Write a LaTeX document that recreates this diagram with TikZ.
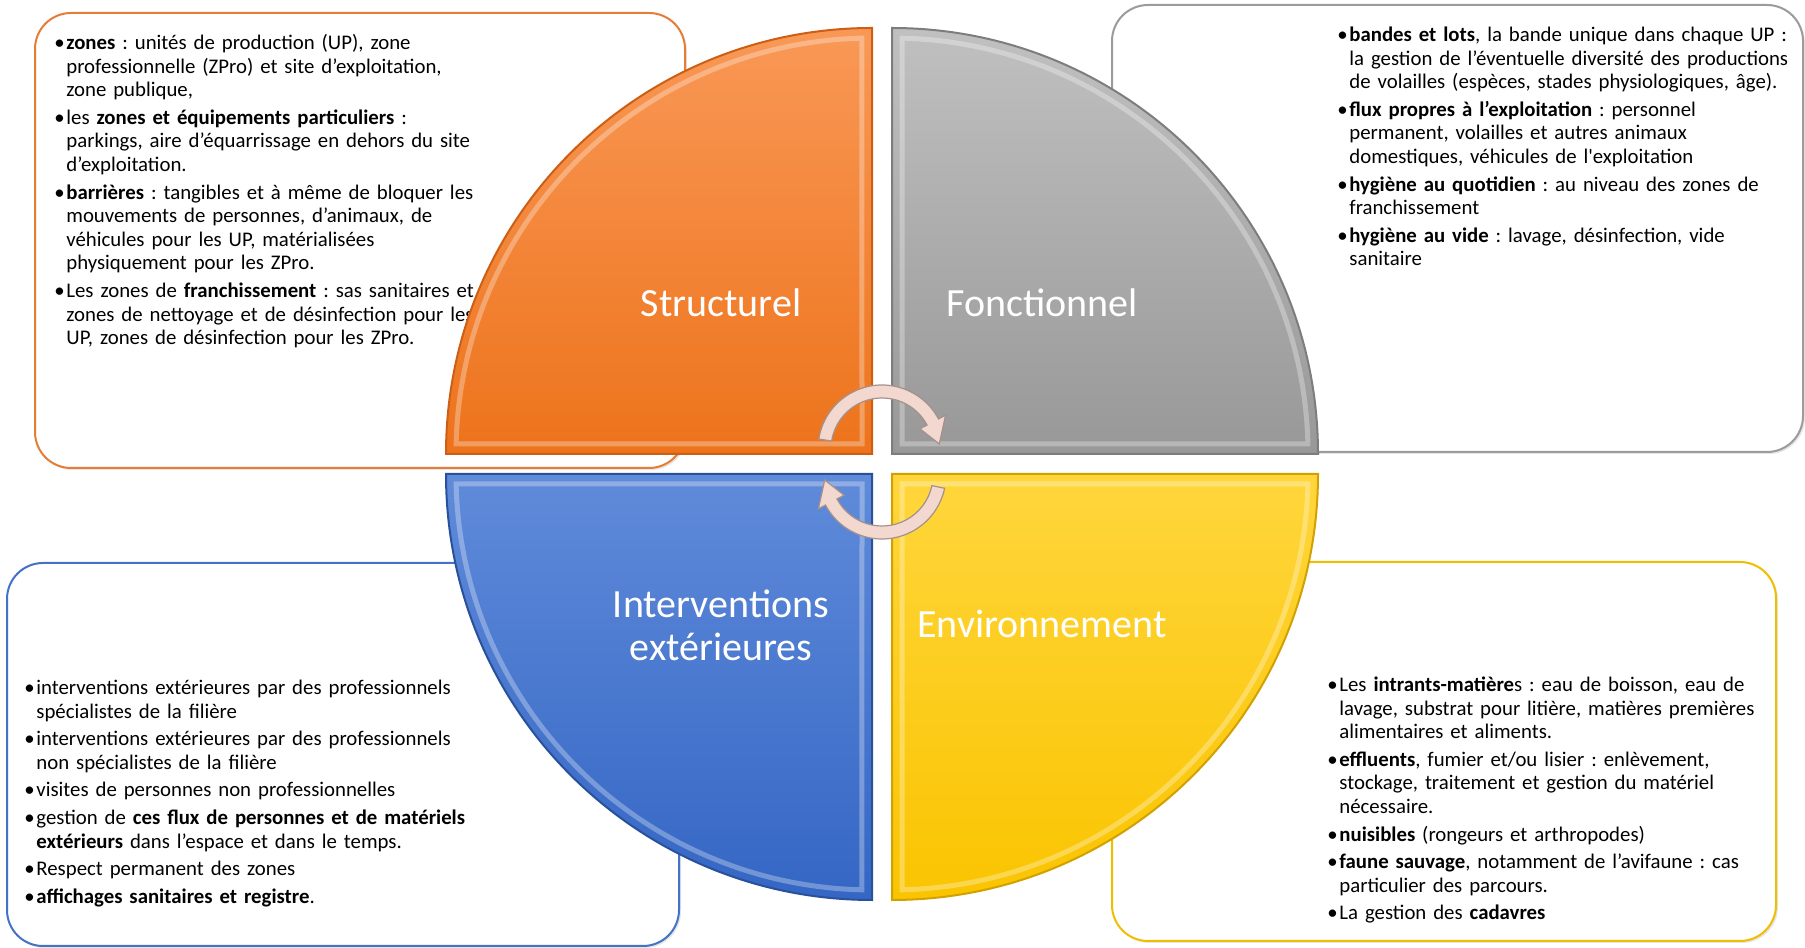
\documentclass[tikz,border=0pt]{standalone}
\usepackage{fontspec}
\setmainfont{Carlito}
\usepackage{tikz}
\usetikzlibrary{shadows}
\frenchspacing

\definecolor{orgedge}{RGB}{230,125,55}
\definecolor{grayedge}{RGB}{155,155,155}
\definecolor{blueedge}{RGB}{68,114,196}
\definecolor{goldedge}{RGB}{240,190,0}
\definecolor{orgtop}{RGB}{249,152,86}
\definecolor{orgbot}{RGB}{237,115,27}
\definecolor{orgrim}{RGB}{205,95,20}
\definecolor{graytop}{RGB}{192,192,192}
\definecolor{graybot}{RGB}{152,152,152}
\definecolor{grayrim}{RGB}{125,125,125}
\definecolor{bluetop}{RGB}{96,139,218}
\definecolor{bluebot}{RGB}{52,102,196}
\definecolor{bluerim}{RGB}{40,80,155}
\definecolor{goldtop}{RGB}{255,214,60}
\definecolor{goldbot}{RGB}{250,196,0}
\definecolor{goldrim}{RGB}{210,160,0}
\definecolor{arrowpink}{RGB}{243,216,208}
\definecolor{arrowedge}{RGB}{165,145,140}

\newcommand\puce[1]{\par\hangindent=6pt\hangafter=1\noindent\makebox[6pt][l]{\textbullet}#1\par\vspace{2pt}}

\tikzset{info box/.style={draw=#1,fill=white,line width=1pt,rounded corners=18pt,
		drop shadow={opacity=.2,shadow xshift=1pt,shadow yshift=-1pt}},
	info text/.style={anchor=base west,inner sep=0pt,text width=235pt,align=left,
		font=\fontsize{10.4}{11.8}\selectfont},
	quad/.style={top color=#1top,bottom color=#1bot,draw=#1rim,line width=1pt},
	bevel/.style={draw=white,draw opacity=.3,line width=2.5pt},
	quad label/.style={text=white,align=center,font=\fontsize{20}{21.5}\selectfont},
	cycle arrow/.style={fill=arrowpink,draw=arrowedge,line width=.6pt},
}

\begin{document}
\begin{tikzpicture}[x=0.5pt,y=0.5pt]
			\useasboundingbox (0,0) rectangle (1805,948);
			
			%% boxes
			\node[info box=orgedge,minimum width=325pt,minimum height=227.5pt] (structbox) at (360,707.5) {};
			\node[info box=grayedge,minimum width=345.5pt,minimum height=223.5pt] (fonctbox) at (1457.5,719.5) {};
			\node[info box=blueedge,minimum width=336pt,minimum height=191.5pt] (interbox) at (343,193.5) {};
			\node[info box=goldedge,minimum width=332pt,minimum height=189.5pt] (envirbox) at (1444,196.5) {};
			
			\node[info text] (structtext) at (54,922) {%
				\puce{\textbf{zones} : unités de production (UP), zone\newline professionnelle (ZPro) et site d’exploitation,\newline zone publique,}
				\puce{les \textbf{zones et équipements particuliers} :\newline parkings, aire d’équarrissage en dehors du site\newline d’exploitation.}
				\puce{\textbf{barrières} : tangibles et à même de bloquer les\newline mouvements de personnes, d’animaux, de\newline véhicules pour les UP, matérialisées\newline physiquement pour les ZPro.}
				\puce{Les zones de \textbf{franchissement} : sas sanitaires et\newline zones de nettoyage et de désinfection pour les\newline UP, zones de désinfection pour les ZPro.}};
			\node[info text] (foncttext) at (1337,930) {%
				\puce{\textbf{bandes et lots}, la bande unique dans chaque UP :\newline la gestion de l’éventuelle diversité des productions\newline de volailles (espèces, stades physiologiques, âge).}
				\puce{\textbf{flux propres à l’exploitation} : personnel\newline permanent, volailles et autres animaux\newline domestiques, véhicules de l\textquotesingle exploitation}
				\puce{\textbf{hygiène au quotidien} : au niveau des zones de\newline franchissement}
				\puce{\textbf{hygiène au vide} : lavage, désinfection, vide\newline sanitaire}};
			\node[info text] (intertext) at (24,277) {%
				\puce{interventions extérieures par des professionnels\newline spécialistes de la filière}
				\puce{interventions extérieures par des professionnels\newline non spécialistes de la filière}
				\puce{visites de personnes non professionnelles}
				\puce{gestion de \textbf{ces flux de personnes et de matériels}\newline \textbf{extérieurs} dans l’espace et dans le temps.}
				\puce{Respect permanent des zones}
				\puce{\textbf{affichages sanitaires et registre}.}};
			\node[info text] (envirtext) at (1327,280) {%
				\puce{Les \textbf{intrants-matière}s : eau de boisson, eau de\newline lavage, substrat pour litière, matières premières\newline alimentaires et aliments.}
				\puce{\textbf{effluents}, fumier et/ou lisier : enlèvement,\newline stockage, traitement et gestion du matériel\newline nécessaire.}
				\puce{\textbf{nuisibles} (rongeurs et arthropodes)}
				\puce{\textbf{faune sauvage}, notamment de l’avifaune : cas\newline particulier des parcours.}
				\puce{La gestion des \textbf{cadavres}}};
			
			%% quarters
			\draw[quad=org] (872,494) -- (446,494) arc[start angle=180,end angle=90,radius=426] -- cycle;
			\draw[bevel] (862,504) -- (456.1,504) arc[start angle=178.62,end angle=91.38,radius=416] -- cycle;
			\draw[quad=gray] (892,494) -- (1318,494) arc[start angle=0,end angle=90,radius=426] -- cycle;
			\draw[bevel] (902,504) -- (1307.9,504) arc[start angle=1.38,end angle=88.62,radius=416] -- cycle;
			\draw[quad=blue] (872,474) -- (446,474) arc[start angle=180,end angle=270,radius=426] -- cycle;
			\draw[bevel] (862,464) -- (456.1,464) arc[start angle=181.38,end angle=268.62,radius=416] -- cycle;
			\draw[quad=gold] (892,474) -- (1318,474) arc[start angle=0,end angle=-90,radius=426] -- cycle;
			\draw[bevel] (902,464) -- (1307.9,464) arc[start angle=-1.38,end angle=-88.62,radius=416] -- cycle;
			
			\node[quad label] (structurel) at (721,645) {Structurel};
			\node[quad label] (fonctionnel) at (1042,645) {Fonctionnel};
			\node[quad label] (interventions) at (721,323) {Interventions\\extérieures};
			\node[quad label] (environnement) at (1042,324) {Environnement};
			
			%% cycle arrows
			\begin{scope}[shift={(882,499)}]
			\draw[cycle arrow] (171:51) -- (171:64) arc[start angle=171,end angle=28,radius=64]
			-- (28:72) -- (5:57.5) -- (28:43) -- (28:51) arc[start angle=28,end angle=171,radius=51] -- cycle;
			\end{scope}
			\begin{scope}[shift={(882,473)}]
			\draw[cycle arrow] (-12:51) -- (-12:64) arc[start angle=-12,end angle=-152,radius=64]
			-- (-152:72) -- (-175:57.5) -- (-152:43) -- (-152:51) arc[start angle=-152,end angle=-12,radius=51] -- cycle;
			\end{scope}
			\end{tikzpicture}
\end{document}
